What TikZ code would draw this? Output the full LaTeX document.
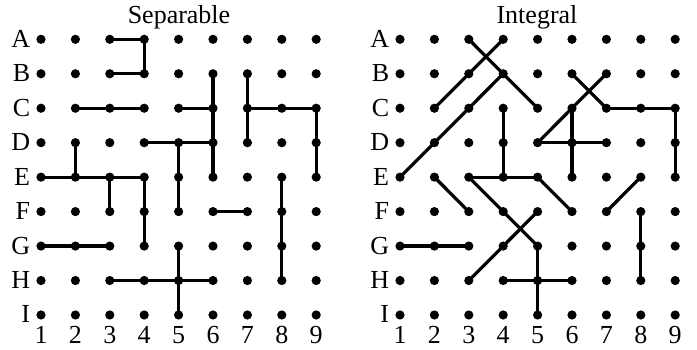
\documentclass[tikz,border=0pt]{standalone}
\usepackage{fontspec}
\setmainfont{Liberation Serif}
\begin{document}
\begin{tikzpicture}[x=0.5pt,y=-0.5pt,
  dot/.style={circle,fill=black,inner sep=0pt,minimum size=4.6pt},
  seg/.style={line width=1.6pt,line join=round},
  lbl/.style={font=\fontsize{13}{15}\selectfont,inner sep=0pt},
  ttl/.style={font=\fontsize{13}{15}\selectfont,inner sep=0pt}]
\useasboundingbox (0,0) rectangle (697,349);
\foreach \g/\ox/\tt/\tx in {L/41/Separable/179,R/400/Integral/537} {
  \node[ttl,anchor=base] (\g-title) at (\tx,23) {\tt};
  \foreach \r/\lab in {1/A,2/B,3/C,4/D,5/E,6/F,7/G,8/H,9/I} {
    \foreach \c in {1,...,9} {
      \node[dot] (\g-\r-\c) at ({\ox+(\c-1)*34.4},{39.3+(\r-1)*34.46}) {};
    }
    \node[lbl,anchor=base east] (\g-lab-\r) at ({\ox-10.5},{47.3+(\r-1)*34.46}) {\lab};
  }
  \foreach \c in {1,...,9} {
    \node[lbl,anchor=base] (\g-num-\c) at ({\ox+(\c-1)*34.4},343) {\c};
  }
}
\foreach \a/\b in {1-3/1-4,1-4/2-4,2-3/2-4,3-2/3-4,3-5/3-6,2-6/5-6,4-4/4-6,4-5/6-5,
  2-7/4-7,3-7/3-9,3-9/5-9,4-2/5-2,5-1/5-4,5-3/6-3,5-4/7-4,6-6/6-7,5-8/8-8,
  7-1/7-3,8-3/8-6,7-5/9-5}
  \draw[seg] (L-\a.center) -- (L-\b.center);
\foreach \a/\b in {1-3/3-5,1-4/3-2,2-4/5-1,2-6/3-7,3-7/3-9,3-9/5-9,2-7/4-5,4-5/4-7,
  3-6/5-6,3-4/5-4,5-3/5-5,5-5/6-6,5-2/6-3,5-3/7-5,6-5/8-3,7-5/9-5,8-4/8-6,
  5-8/6-7,6-8/8-8,7-1/7-3}
  \draw[seg] (R-\a.center) -- (R-\b.center);
\end{tikzpicture}
\end{document}
